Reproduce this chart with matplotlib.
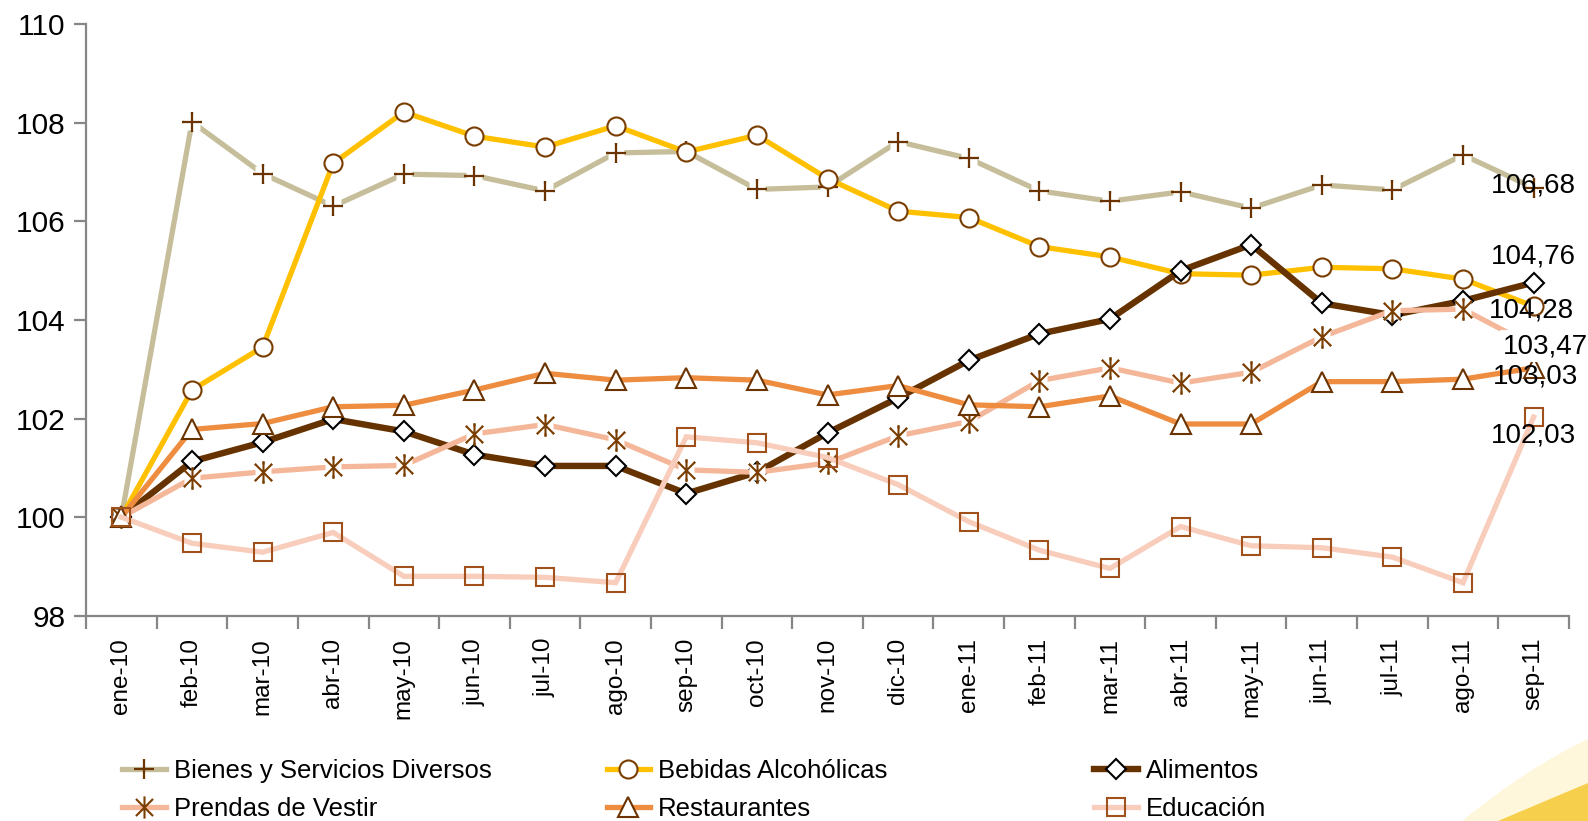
import matplotlib
matplotlib.use('Agg')
import matplotlib.pyplot as plt
import matplotlib.patches as mpatches
from matplotlib.path import Path
import numpy as np

plt.rcParams['font.family'] = ['Liberation Sans', 'DejaVu Sans']

meses = ['ene-10', 'feb-10', 'mar-10', 'abr-10', 'may-10', 'jun-10', 'jul-10',
         'ago-10', 'sep-10', 'oct-10', 'nov-10', 'dic-10', 'ene-11', 'feb-11',
         'mar-11', 'abr-11', 'may-11', 'jun-11', 'jul-11', 'ago-11', 'sep-11']

bienes = [100, 108.02, 106.97, 106.31, 106.96, 106.93, 106.62, 107.39, 107.42, 106.65,
          106.70, 107.62, 107.28, 106.62, 106.41, 106.60, 106.27, 106.74, 106.64, 107.35, 106.68]
bebidas = [100, 102.58, 103.45, 107.18, 108.22, 107.73, 107.51, 107.94, 107.41, 107.75,
           106.87, 106.21, 106.08, 105.49, 105.28, 104.94, 104.91, 105.07, 105.04, 104.83, 104.28]
alimentos = [100, 101.13, 101.52, 101.99, 101.74, 101.27, 101.04, 101.04, 100.48, 100.91,
             101.71, 102.42, 103.18, 103.72, 104.02, 105.00, 105.53, 104.34, 104.10, 104.39, 104.76]
prendas = [100, 100.79, 100.92, 101.02, 101.05, 101.69, 101.88, 101.57, 100.96, 100.91,
           101.10, 101.65, 101.94, 102.77, 103.03, 102.72, 102.94, 103.66, 104.19, 104.22, 103.47]
restaurantes = [100, 101.78, 101.90, 102.24, 102.27, 102.58, 102.92, 102.78, 102.83, 102.78,
                102.48, 102.67, 102.28, 102.24, 102.46, 101.89, 101.89, 102.75, 102.75, 102.80, 103.03]
educacion = [100, 99.47, 99.29, 99.69, 98.80, 98.80, 98.78, 98.67, 101.63, 101.51,
             101.21, 100.66, 99.91, 99.33, 98.96, 99.81, 99.42, 99.38, 99.19, 98.67, 102.03]

nombres = ['Bienes y Servicios Diversos', 'Bebidas Alcohólicas', 'Alimentos',
           'Prendas de Vestir', 'Restaurantes', 'Educación']

# asterisk marker like the excel one
ast = Path([(-1, -1), (1, 1), (-1, 1), (1, -1), (0, -1.3), (0, 1.3)],
           [Path.MOVETO, Path.LINETO, Path.MOVETO, Path.LINETO, Path.MOVETO, Path.LINETO])

estilos = [
    dict(color='#C6BE9A', lw=3.8, marker='+', ms=15, mec='#6B3300', mew=1.6),
    dict(color='#FFC000', lw=3.8, marker='o', ms=13, mfc='white', mec='#7A3D00', mew=1.5),
    dict(color='#663300', lw=4.6, marker='D', ms=10, mfc='white', mec='black', mew=1.5),
    dict(color='#F5B799', lw=3.8, marker=ast, ms=16, mec='#7A3D00', mew=1.5),
    dict(color='#EE8C40', lw=3.8, marker='^', ms=14, mfc='white', mec='#6B3300', mew=1.5),
    dict(color='#F8CDBB', lw=3.8, marker='s', ms=13, mfc='none', mec='#A0501A', mew=1.5),
]

fig = plt.figure(figsize=(15.88, 8.21), dpi=100)
ax = fig.add_axes([0.0542, 0.25, 0.9338, 0.7204])

x = np.arange(len(meses))
lineas = []
z = 2
for nombre, datos, st in zip(nombres, [bienes, bebidas, alimentos, prendas, restaurantes, educacion], estilos):
    l, = ax.plot(x, datos, label=nombre, solid_joinstyle='miter', zorder=z, **st)
    lineas.append(l)
    if st['marker'] in ('+', ast):
        # white box behind the thin markers, as excel does
        ax.plot(x, datos, ls='none', marker='s', ms=12, mfc='white', mec='none', zorder=z + 0.1)
        ax.plot(x, datos, ls='none', marker=st['marker'], ms=st['ms'], mec=st['mec'],
                mew=st['mew'], zorder=z + 0.2)
    z += 1

ax.set_xlim(-0.5, len(meses) - 0.5)
ax.set_ylim(98, 110)
ax.set_yticks(np.arange(98, 111, 2))
ax.set_xticks(x)
ax.set_xticklabels(meses, rotation=90)
ax.set_xticks(np.arange(-0.5, len(meses), 1), minor=True)
ax.tick_params(axis='x', which='major', length=0, pad=16, labelsize=17.5)
ax.tick_params(axis='x', which='minor', length=9, width=1.6, color='#868686')
ax.tick_params(axis='y', length=9, width=1.6, color='#868686', labelsize=21.5, pad=6)
for s in ['top', 'right']:
    ax.spines[s].set_visible(False)
for s in ['left', 'bottom']:
    ax.spines[s].set_color('#868686')
    ax.spines[s].set_linewidth(1.6)

# etiquetas de valor final
ultimos = [bienes[-1], bebidas[-1], alimentos[-1], prendas[-1], restaurantes[-1], educacion[-1]]
desplaz = [(0, 2), (-2, -4), (0, 26), (12, 0), (2, -9), (0, -18)]
for i, v in enumerate(ultimos):
    t = ax.annotate(('%.2f' % v).replace('.', ','), xy=(x[-1], v), xytext=desplaz[i],
                    textcoords='offset pixels', ha='center', va='center', fontsize=20,
                    annotation_clip=False, zorder=20)
    if i == 3:
        t.set_bbox(dict(facecolor='white', edgecolor='none', pad=2))

# leyenda en tres columnas
orden = [[0, 3], [1, 4], [2, 5]]
xs = [0.077, 0.382, 0.689]
for col, xpos in zip(orden, xs):
    fig.legend([lineas[i] for i in col], [nombres[i] for i in col],
               loc='upper left', bbox_to_anchor=(xpos, 0.0755), frameon=False,
               fontsize=18.5, handlelength=1.7, handletextpad=0.3, labelspacing=0.55,
               borderaxespad=0, borderpad=0)

# adorno amarillo en la esquina
w, h = 1588.0, 821.0
verts = [(1462 / w, 0), (1530 / w, 55 / h), (1.0, 82 / h), (1.0, 0), (1462 / w, 0)]
codes = [Path.MOVETO, Path.CURVE3, Path.CURVE3, Path.LINETO, Path.CLOSEPOLY]
fig.patches.append(mpatches.PathPatch(Path(verts, codes), transform=fig.transFigure,
                                      facecolor='#FFF4CC', edgecolor='none', alpha=0.7))
verts2 = [(1498 / w, 0), (1550 / w, 22 / h), (1.0, 38 / h), (1.0, 0), (1498 / w, 0)]
codes2 = [Path.MOVETO, Path.CURVE3, Path.CURVE3, Path.LINETO, Path.CLOSEPOLY]
fig.patches.append(mpatches.PathPatch(Path(verts2, codes2), transform=fig.transFigure,
                                      facecolor='#F6CC3C', edgecolor='none', alpha=0.9))

fig.savefig('out.png', dpi=100)
